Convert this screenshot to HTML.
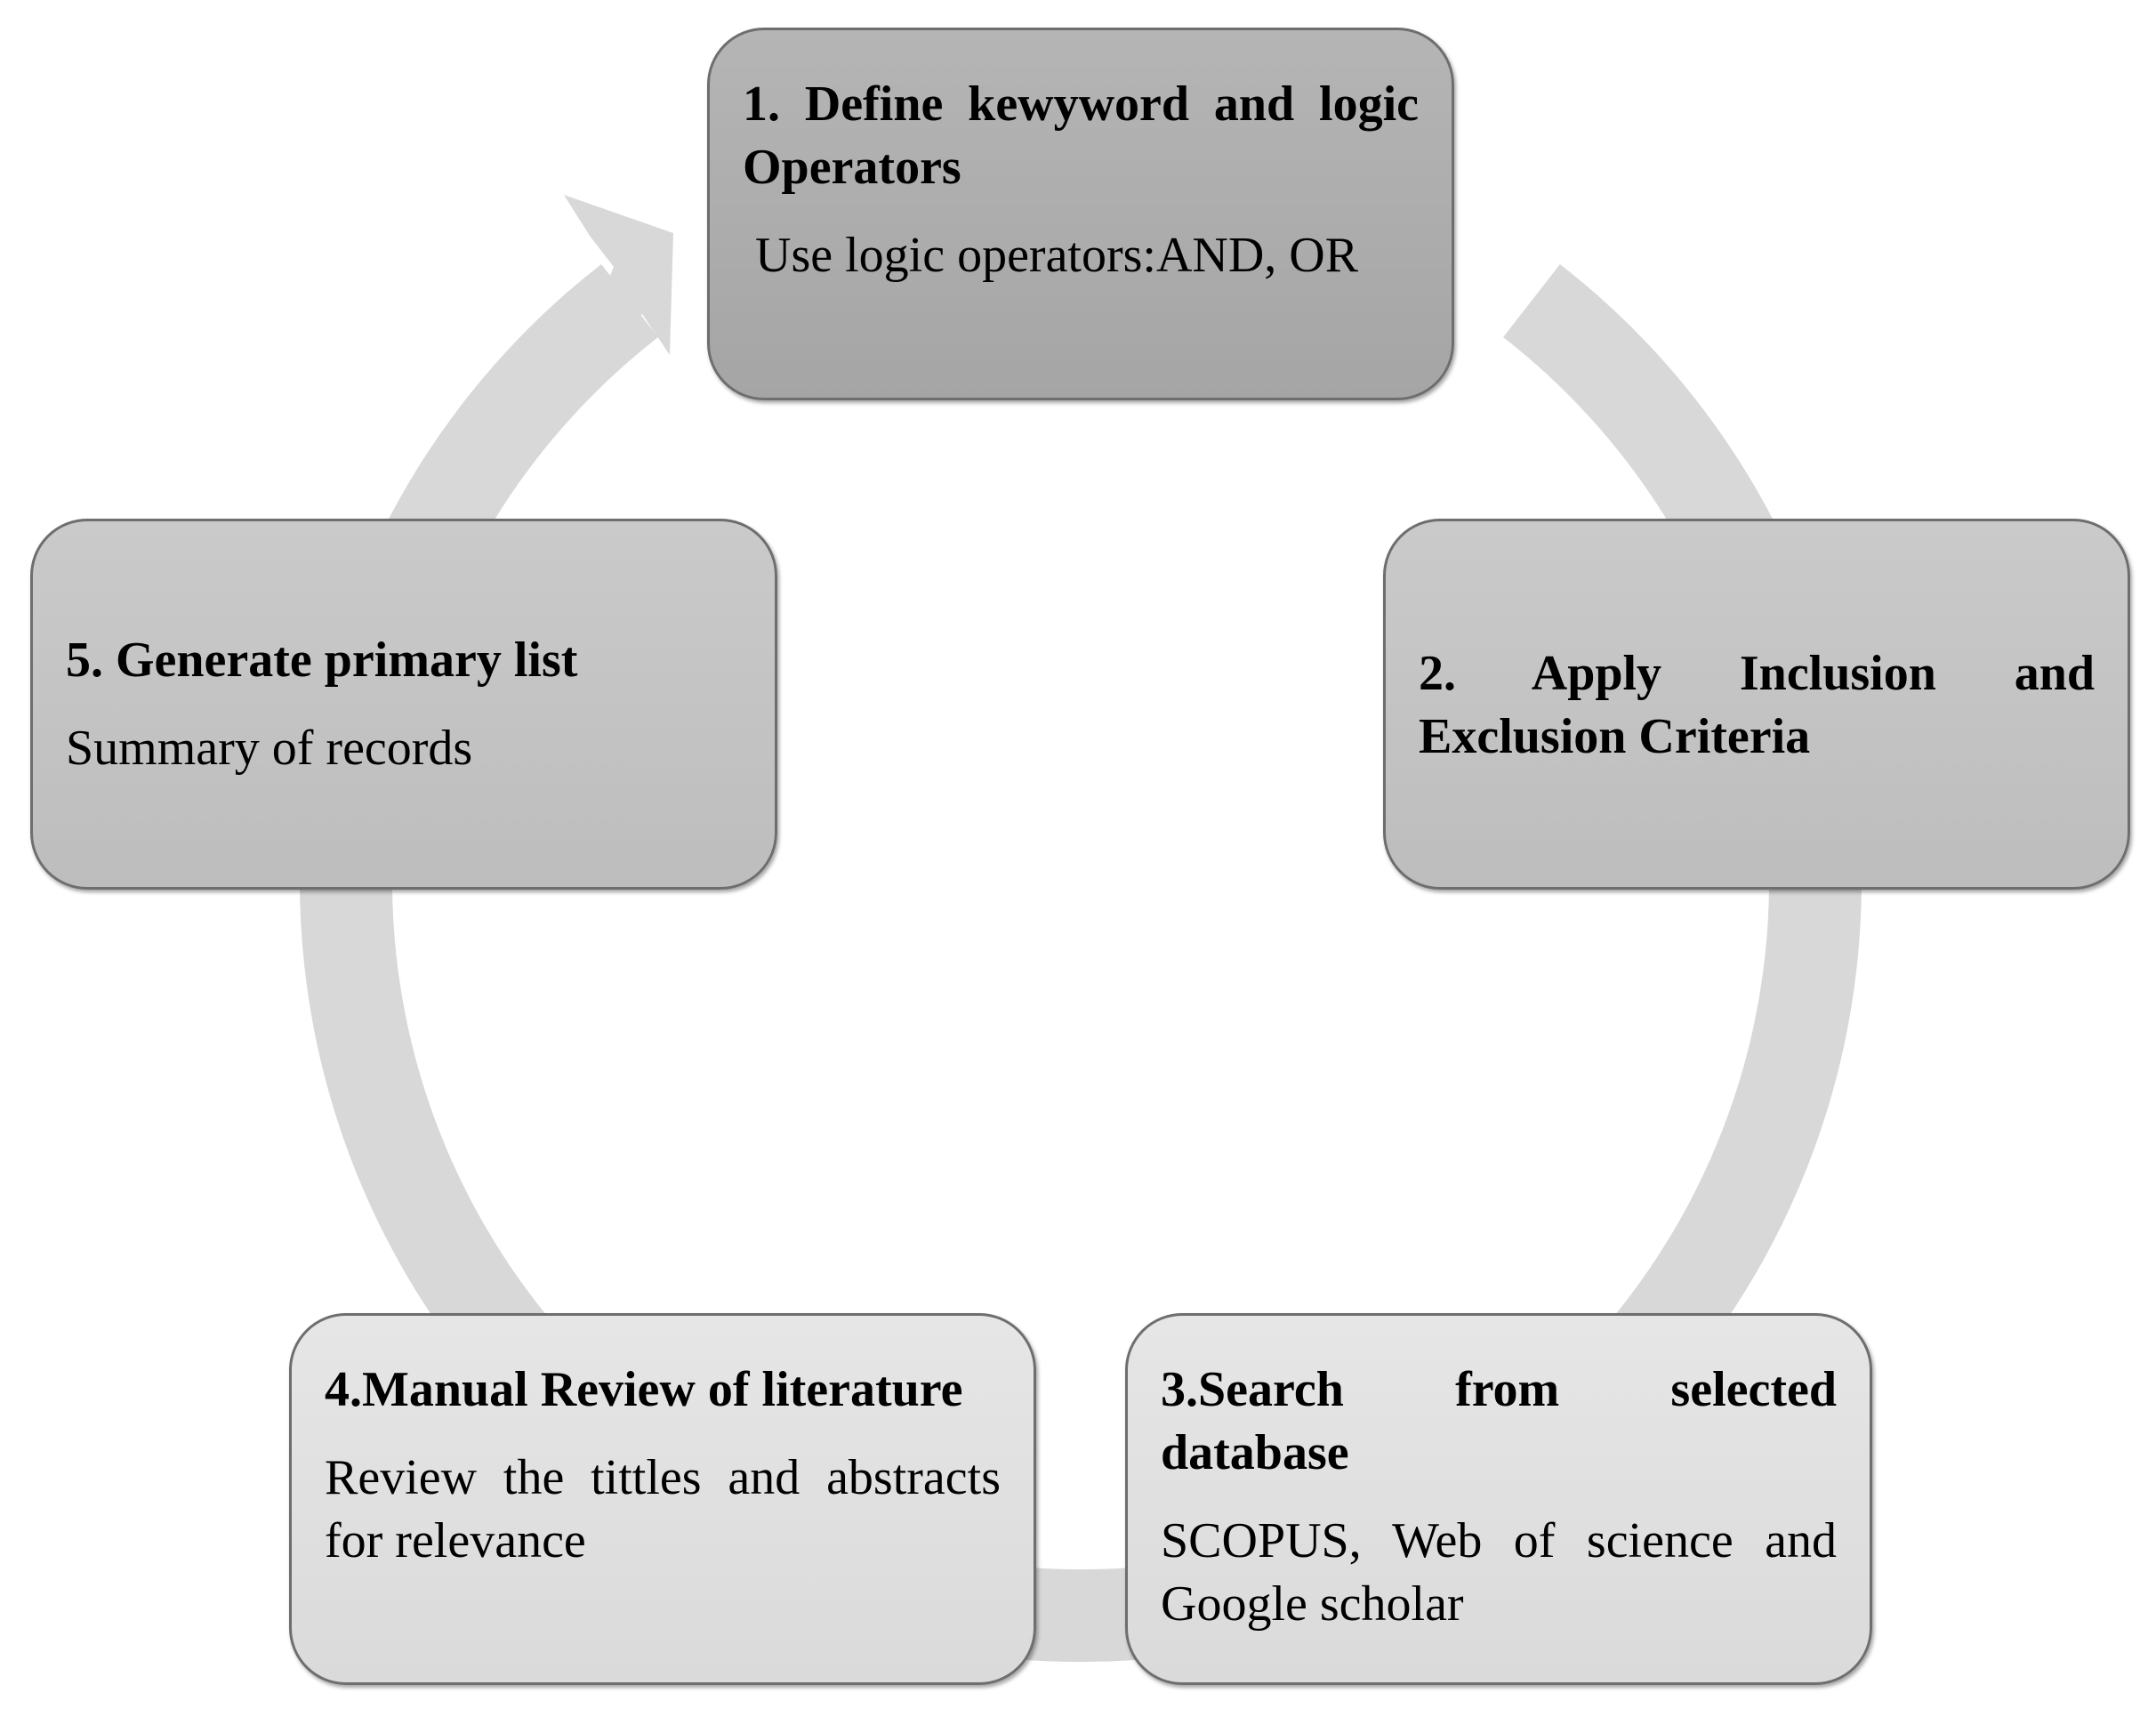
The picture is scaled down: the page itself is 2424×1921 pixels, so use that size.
<!DOCTYPE html>
<html><head><meta charset="utf-8"><style>
body{margin:0;width:2424px;height:1921px;background:#fff;position:relative;overflow:hidden;font-family:"Liberation Serif",serif;}
svg{position:absolute;left:0;top:0}
.b{position:absolute;box-sizing:border-box;border:3px solid #6e6e6e;border-radius:64px;padding:0 37px;font-size:56px;line-height:71px;color:#000;text-align:justify;box-shadow:2px 3px 4px rgba(0,0,0,0.35);}
.b p{margin:0}
.b .t{font-weight:bold}
.b1{left:795px;top:31px;width:840px;height:419px;padding-top:48px;background:linear-gradient(#b5b5b5,#a5a5a5);}
.b2{left:1555px;top:583px;width:840px;height:417px;padding-top:136px;background:linear-gradient(#cacaca,#bdbdbd);}
.b5{left:34px;top:583px;width:840px;height:417px;padding-top:121px;background:linear-gradient(#cacaca,#bdbdbd);}
.b3{left:1265px;top:1476px;width:840px;height:418px;padding-top:48px;background:linear-gradient(#e6e6e6,#dadada);}
.b4{left:325px;top:1476px;width:840px;height:418px;padding-top:48px;background:linear-gradient(#e6e6e6,#dadada);}
.g{margin-top:28px!important}
</style></head><body>
<svg width="2424" height="1921">
<path d="M708 338 A826 826 0 1 0 1722 338" fill="none" stroke="#d8d8d8" stroke-width="104"/>
<polygon points="634,219 757,262 753,399 722,353 640,420 690,300 663,265" fill="#d8d8d8"/>
</svg>
<div class="b b1"><p class="t">1. Define kewyword and logic Operators</p><p class="g">&nbsp;Use logic operators:AND, OR</p></div>
<div class="b b2"><p class="t">2. Apply Inclusion and Exclusion Criteria</p></div>
<div class="b b5"><p class="t">5. Generate primary list</p><p class="g">Summary of records</p></div>
<div class="b b3"><p class="t">3.Search from selected database</p><p class="g">SCOPUS, Web of science and Google scholar</p></div>
<div class="b b4"><p class="t">4.Manual Review of literature</p><p class="g">Review the tittles and abstracts for relevance</p></div>
</body></html>
